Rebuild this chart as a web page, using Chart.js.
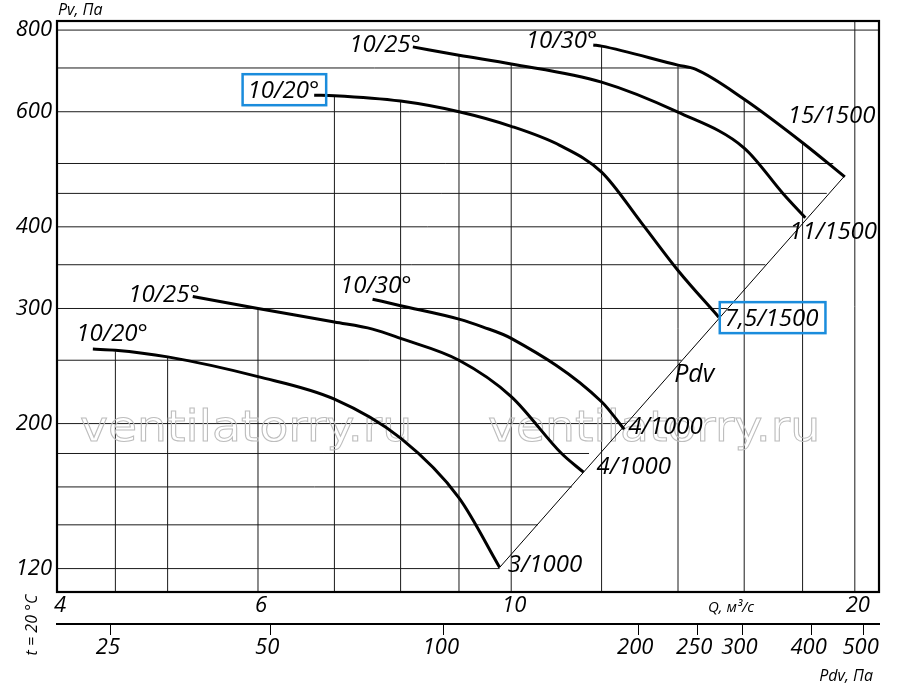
<!DOCTYPE html>
<html>
<head>
<meta charset="utf-8">
<script src="https://cdn.jsdelivr.net/npm/chart.js@4/dist/chart.umd.min.js"></script>
<style>
  html, body { margin: 0; padding: 0; background: #fff; }
  #wrap { width: 900px; height: 694px; }
</style>
</head>
<body>
<div id="wrap"><canvas id="chart"></canvas></div>
<script>
// Q, м3/с and Pv, Па, one pair per curve

// n = 1500
const q_75_1500 = [6.72, 7, 8, 9, 10, 11.03, 12, 13, 14, 15.2];
const pv_75_1500 = [636, 635, 623, 600, 570, 533, 485, 406, 343, 291];
const q_11_1500 = [8.2, 9, 10, 12, 14, 16, 17.3, 18.1];
const pv_11_1500 = [754, 732, 710, 666, 599, 528, 450, 413];
const q_15_1500 = [11.8, 12, 14, 14.5, 16, 18, 19.6];
const pv_15_1500 = [759, 756, 707, 697, 627, 538, 477];

// n = 1000
const q_3_1000 = [4.3, 4.5, 5, 6, 7, 8, 9, 9.77];
const pv_3_1000 = [260, 259, 253, 236, 218, 190, 154, 120.5];
const q_4_1000a = [5.26, 6, 7, 7.56, 8, 9, 10, 11.07, 11.57];
const pv_4_1000a = [313, 300, 286, 279, 270, 250, 220, 180, 168.5];
const q_4_1000b = [7.56, 8, 9, 9.45, 10, 12, 12.56];
const pv_4_1000b = [310, 303, 289, 281, 270, 216, 196];

// Pdv line (through the curve ends)
const q_pdv = [9.77, 19.56];
const pv_pdv = [120.5, 477];

const startLabels = ['10/20°', '10/25°', '10/30°', '10/20°', '10/25°', '10/30°'];
const endLabels = ['7,5/1500', '11/1500', '15/1500', '3/1000', '4/1000', '4/1000'];

// axes
const qTicks = [4, 6, 10, 20];
const pvTicks = [120, 200, 300, 400, 600, 800];
const pdvTickLabels = [25, 50, 100, 200, 250, 300, 400, 500];
const pdvTickQ = [4.46, 6.15, 8.73, 12.92, 14.55, 15.94, 18.33, 20.36];

// grid: vertical lines run up to the top curve, horizontal ones stop at Pdv / top curve
const gridQ = [4.5, 5, 6, 7, 8, 9, 10, 12, 14, 16, 18, 20];
const gridQTop = [258, 253, 300, 635, 623, 732, 710, 756, 707, 627, 538, 826];
const gridPv = [120, 140, 160, 180, 200, 250, 300, 350, 400, 450, 500, 600, 700, 800];
const gridPvEnd = [9.77, 10.55, 11.3, 11.7, 12.6, 14.1, 15.45, 16.7, 17.85, 18.9, 19.15, 16.6, 14.4, 21];

const Q_MIN = 4, Q_MAX = 21;
const PV_MIN = 110.5, PV_MAX = 826;

// label placement (px from first / last point of each curve)
const startOff = [[5, 3], [8, 5], [4, 3], [55, -8], [7, 6], [39, -6]];
const endOff = [[6, 9], [-16, 21], [-57, -54], [8, 5], [13, 2], [4, 5]];
const boxStart = [true, false, false, false, false, false];
const boxEnd = [true, false, false, false, false, false];

const FONT = '"Open Sans", "DejaVu Sans", sans-serif';
const BLUE = '#1a8cdc';
const tickFont = { family: FONT, size: 22, style: 'italic' };

function pts(qs, pvs) {
    return qs.map((q, i) => ({ x: q, y: pvs[i] }));
}

function curve(qs, pvs) {
    return {
        data: pts(qs, pvs),
        borderColor: '#000',
        borderWidth: 3,
        pointRadius: 0,
        fill: false,
        cubicInterpolationMode: 'monotone'
    };
}

function txt(ctx, t, x, y, size, align) {
    ctx.font = `italic ${size}px ${FONT}`;
    ctx.textAlign = align || 'left';
    ctx.textBaseline = 'alphabetic';
    ctx.fillText(t, x, y);
    return ctx.measureText(t).width;
}

function box(ctx, left, right, base) {
    ctx.save();
    ctx.strokeStyle = BLUE;
    ctx.lineWidth = 2.5;
    ctx.strokeRect(left - 5, base - 24, right - left + 12, 31);
    ctx.restore();
}

function watermark(ctx, x, y) {
    ctx.save();
    ctx.translate(x, y);
    ctx.scale(1.1, 1);
    ctx.strokeText('ventilatorry.ru', 0, 0);
    ctx.restore();
}

const sheetPlugin = {
    id: 'sheet',
    beforeDatasetsDraw(chart) {
        const { ctx, chartArea: a, scales: { x, y } } = chart;
        ctx.save();
        ctx.strokeStyle = '#1a1a1a';
        ctx.lineWidth = 1;

        gridQ.forEach((q, i) => {
            const px = x.getPixelForValue(q);
            ctx.beginPath();
            ctx.moveTo(px, a.bottom);
            ctx.lineTo(px, Math.max(a.top, y.getPixelForValue(gridQTop[i])));
            ctx.stroke();
        });
        gridPv.forEach((v, i) => {
            const py = y.getPixelForValue(v);
            ctx.beginPath();
            ctx.moveTo(a.left, py);
            ctx.lineTo(Math.min(a.right, x.getPixelForValue(gridPvEnd[i])), py);
            ctx.stroke();
        });

        // watermark
        ctx.font = '43px "DejaVu Sans", sans-serif';
        ctx.textAlign = 'left';
        ctx.textBaseline = 'alphabetic';
        ctx.strokeStyle = '#bdbdbd';
        ctx.lineWidth = 1;
        watermark(ctx, a.left + 23, a.top + 420);
        watermark(ctx, a.left + 431, a.top + 420);

        // frame
        ctx.strokeStyle = '#000';
        ctx.lineWidth = 2.2;
        ctx.strokeRect(a.left, a.top, a.right - a.left, a.bottom - a.top);
        ctx.restore();
    },
    afterDatasetsDraw(chart) {
        const { ctx, chartArea: a } = chart;
        ctx.save();
        ctx.fillStyle = '#000';

        startLabels.forEach((t, i) => {
            const p = chart.getDatasetMeta(i).data[0];
            const rx = p.x + startOff[i][0], by = p.y + startOff[i][1];
            const w = txt(ctx, t, rx, by, 24, 'right');
            if (boxStart[i]) box(ctx, rx - w, rx, by);
        });
        endLabels.forEach((t, i) => {
            const d = chart.getDatasetMeta(i).data;
            const p = d[d.length - 1];
            const lx = p.x + endOff[i][0], by = p.y + endOff[i][1];
            const w = txt(ctx, t, lx, by, 24, 'left');
            if (boxEnd[i]) box(ctx, lx, lx + w, by);
        });

        // Pdv label on the line
        const m = chart.getDatasetMeta(6).data;
        const k = 0.478;
        const lx = m[0].x + (m[1].x - m[0].x) * k;
        const ly = m[0].y + (m[1].y - m[0].y) * k;
        txt(ctx, 'Pdv', lx + 10, ly + 1, 25, 'left');

        // captions
        txt(ctx, 'Pv, Па', a.left + 1, a.top - 6, 16, 'left');
        txt(ctx, 'Q, м³/с', a.right - 171, a.bottom + 20, 15, 'left');
        txt(ctx, 'Pdv, Па', a.right - 6, a.bottom + 89, 16, 'right');

        ctx.translate(37, a.bottom + 33);
        ctx.rotate(-Math.PI / 2);
        txt(ctx, 't = 20 °C', 0, 0, 16, 'center');
        ctx.restore();
    }
};

const ctx = document.getElementById('chart').getContext('2d');

new Chart(ctx, {
    type: 'line',
    data: {
        datasets: [
            curve(q_75_1500, pv_75_1500),
            curve(q_11_1500, pv_11_1500),
            curve(q_15_1500, pv_15_1500),
            curve(q_3_1000, pv_3_1000),
            curve(q_4_1000a, pv_4_1000a),
            curve(q_4_1000b, pv_4_1000b),
            {
                data: pts(q_pdv, pv_pdv),
                borderColor: '#000',
                borderWidth: 1,
                pointRadius: 0,
                fill: false
            }
        ]
    },
    options: {
        responsive: true,
        maintainAspectRatio: false,
        animation: false,
        layout: { padding: { top: 21, right: 21, left: 0, bottom: 0 } },
        plugins: {
            legend: { display: false },
            tooltip: { enabled: false }
        },
        scales: {
            x: {
                type: 'logarithmic',
                position: 'bottom',
                min: Q_MIN,
                max: Q_MAX,
                bounds: 'data',
                weight: 0,
                afterBuildTicks: s => { s.ticks = qTicks.map(v => ({ value: v })); },
                afterFit: s => { s.height = 32; },
                grid: { display: false, drawTicks: false },
                border: { display: false },
                ticks: {
                    autoSkip: false, maxRotation: 0, padding: 1, labelOffset: 3,
                    font: tickFont, color: '#000',
                    callback: v => String(v)
                }
            },
            pdv: {
                type: 'logarithmic',
                axis: 'x',
                position: 'bottom',
                min: Q_MIN,
                max: Q_MAX,
                bounds: 'data',
                weight: 1,
                afterBuildTicks: s => { s.ticks = pdvTickQ.map(v => ({ value: v })); },
                afterFit: s => { s.height = 70; },
                grid: { drawOnChartArea: false, drawTicks: true, tickLength: 11, color: '#000', lineWidth: 1 },
                border: { display: true, color: '#000', width: 2 },
                ticks: {
                    autoSkip: false, maxRotation: 0, padding: 0, labelOffset: -3,
                    font: tickFont, color: '#000',
                    callback: (v, i) => String(pdvTickLabels[i])
                }
            },
            y: {
                type: 'logarithmic',
                min: PV_MIN,
                max: PV_MAX,
                bounds: 'data',
                afterBuildTicks: s => { s.ticks = pvTicks.map(v => ({ value: v })); },
                afterFit: s => { s.width = 57; },
                grid: { display: false, drawTicks: false },
                border: { display: false },
                ticks: {
                    autoSkip: false, padding: 5,
                    font: tickFont, color: '#000',
                    callback: v => String(v)
                }
            }
        }
    },
    plugins: [sheetPlugin]
});
</script>
</body>
</html>
